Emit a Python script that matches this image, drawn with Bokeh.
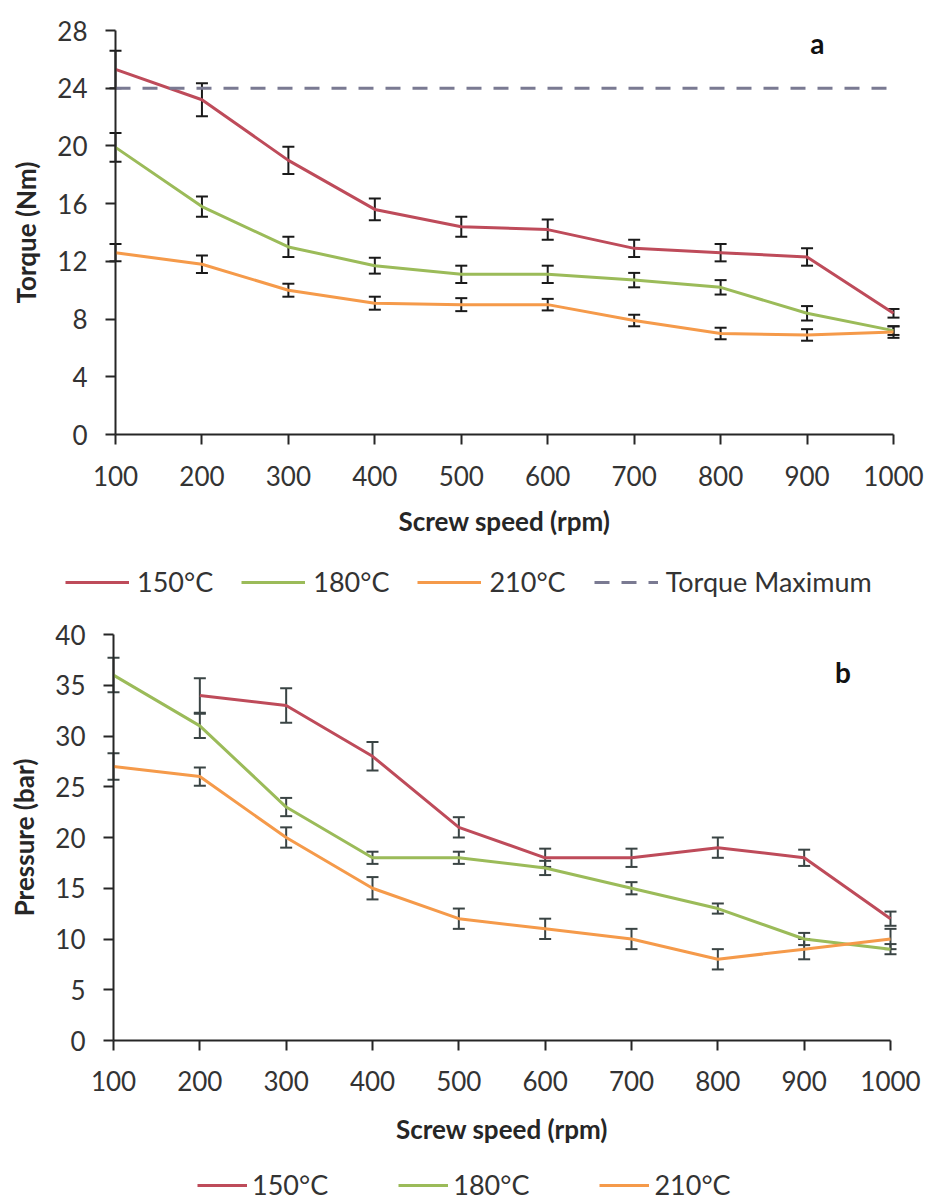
from bokeh.plotting import figure
from bokeh.models import (ColumnDataSource, Whisker, TeeHead, Legend, LegendItem,
                          FixedTicker, Range1d, Label)
from bokeh.layouts import column
from bokeh.embed import file_html
from bokeh.resources import INLINE

# ---------------- data ----------------
speed = [100, 200, 300, 400, 500, 600, 700, 800, 900, 1000]

torque_150 = [25.3, 23.2, 19.0, 15.6, 14.4, 14.2, 12.9, 12.6, 12.3, 8.4]
torque_150_err = [1.3, 1.15, 0.95, 0.75, 0.7, 0.7, 0.6, 0.6, 0.6, 0.3]
torque_180 = [19.9, 15.8, 13.0, 11.7, 11.1, 11.1, 10.7, 10.2, 8.4, 7.2]
torque_180_err = [1.0, 0.7, 0.7, 0.55, 0.6, 0.6, 0.5, 0.5, 0.5, 0.3]
torque_210 = [12.6, 11.8, 10.0, 9.1, 9.0, 9.0, 7.9, 7.0, 6.9, 7.1]
torque_210_err = [0.6, 0.6, 0.45, 0.45, 0.45, 0.4, 0.4, 0.4, 0.4, 0.4]
torque_max = 24
torque_ticks = [0, 4, 8, 12, 16, 20, 24, 28]

pressure_150_speed = [200, 300, 400, 500, 600, 700, 800, 900, 1000]
pressure_150 = [34, 33, 28, 21, 18, 18, 19, 18, 12]
pressure_150_err = [1.7, 1.7, 1.4, 1.0, 0.9, 0.9, 1.0, 0.8, 0.7]
pressure_180 = [36, 31, 23, 18, 18, 17, 15, 13, 10, 9]
pressure_180_err = [1.7, 1.2, 0.9, 0.6, 0.6, 0.7, 0.6, 0.5, 0.6, 0.5]
pressure_210 = [27, 26, 20, 15, 12, 11, 10, 8, 9, 10]
pressure_210_err = [1.3, 0.9, 1.0, 1.1, 1.0, 1.0, 1.0, 1.0, 1.0, 1.0]
pressure_ticks = [0, 5, 10, 15, 20, 25, 30, 35, 40]

labels = ["150°C", "180°C", "210°C"]
colors = ["#be4b5a", "#9bbb59", "#f59a4a"]
dash_color = "#7a7a92"
FONT = "Lato"
TXT = "#333333"
W = 932


def base_figure(height, box, yticks, ylabel, tick_standoff, title_standoff):
    """box = (left, right, top, bottom) pixel position of the plotting area
    (the axes) inside a figure whose drawing area covers the whole figure."""
    left, right, top, bottom = box
    x0, x1 = speed[0], speed[-1]
    y0, y1 = yticks[0], yticks[-1]
    kx = (x1 - x0) / (right - left)
    ky = (y1 - y0) / (bottom - top)
    p = figure(width=W, height=height, output_backend="svg", toolbar_location=None,
               x_range=Range1d(x0 - left * kx, x1 + (W - right) * kx),
               y_range=Range1d(y0 - (height - bottom) * ky, y1 + top * ky),
               min_border=0, background_fill_color="white", border_fill_color="white")
    p.outline_line_color = None
    p.xgrid.visible = False
    p.ygrid.visible = False
    p.xaxis.ticker = FixedTicker(ticks=speed)
    p.yaxis.ticker = FixedTicker(ticks=yticks)
    p.xaxis.fixed_location = y0
    p.yaxis.fixed_location = x0
    p.xaxis.bounds = (x0, x1)
    p.yaxis.bounds = (y0, y1)
    for ax in (p.xaxis[0], p.yaxis[0]):
        ax.axis_line_color = "#262626"
        ax.axis_line_width = 2
        ax.major_tick_line_color = "#262626"
        ax.major_tick_line_width = 2
        ax.major_tick_in = 0
        ax.major_tick_out = 10
        ax.minor_tick_out = 0
        ax.minor_tick_in = 0
        ax.major_label_text_font = FONT
        ax.major_label_text_font_size = "26px"
        ax.major_label_text_color = TXT
        ax.axis_label_text_font = FONT
        ax.axis_label_text_font_style = "bold"
        ax.axis_label_text_font_size = "26px"
        ax.axis_label_text_color = "#262626"
    p.xaxis.axis_label = "Screw speed (rpm)"
    p.yaxis.axis_label = ylabel
    p.xaxis.major_label_standoff = tick_standoff
    p.xaxis.axis_label_standoff = title_standoff
    p.yaxis.major_label_standoff = 18
    p.yaxis.axis_label_standoff = 12
    return p


def add_series(p, xs, ys, errs, color, err_color):
    r = p.line(xs, ys, line_color=color, line_width=3, line_join="round")
    src = ColumnDataSource(dict(x=xs,
                                upper=[y + e for y, e in zip(ys, errs)],
                                lower=[y - e for y, e in zip(ys, errs)]))
    w = Whisker(base="x", upper="upper", lower="lower", source=src,
                line_color=err_color, line_width=2,
                upper_head=TeeHead(size=12, line_color=err_color, line_width=2),
                lower_head=TeeHead(size=12, line_color=err_color, line_width=2))
    p.add_layout(w)
    return r


# ---------------- chart a ----------------
pa = base_figure(600, (115, 893, 30, 434), torque_ticks, "Torque (Nm)", 21, 16)
ra = [add_series(pa, speed, torque_150, torque_150_err, colors[0], "#1a1a1a"),
      add_series(pa, speed, torque_180, torque_180_err, colors[1], "#1a1a1a"),
      add_series(pa, speed, torque_210, torque_210_err, colors[2], "#1a1a1a")]
rmax = pa.line([speed[0], speed[-1]], [torque_max, torque_max], line_color=dash_color,
               line_width=3, line_dash="15 12")
pa.add_layout(Label(x=912, y=27.1, text="a", text_font=FONT, text_font_style="bold",
                    text_font_size="28px", text_align="center", text_baseline="middle",
                    text_color="#111111"))
leg_a = Legend(items=[LegendItem(label=labels[0], renderers=[ra[0]]),
                      LegendItem(label=labels[1], renderers=[ra[1]]),
                      LegendItem(label=labels[2], renderers=[ra[2]]),
                      LegendItem(label="Torque Maximum", renderers=[rmax])],
               orientation="horizontal", location=(65, 2),
               label_text_font=FONT, label_text_font_size="27px", label_text_color=TXT,
               glyph_width=64, glyph_height=20, spacing=28, label_standoff=8,
               border_line_color=None, background_fill_alpha=0, padding=0, margin=0)
pa.add_layout(leg_a)

# ---------------- chart b ----------------
pb = base_figure(601, (113, 890, 34, 440), pressure_ticks, "Pressure (bar)", 20, 19)
err_b = "#3a4444"
rb = [add_series(pb, pressure_150_speed, pressure_150, pressure_150_err, colors[0], err_b),
      add_series(pb, speed, pressure_180, pressure_180_err, colors[1], err_b),
      add_series(pb, speed, pressure_210, pressure_210_err, colors[2], err_b)]
pb.add_layout(Label(x=945, y=36.3, text="b", text_font=FONT, text_font_style="bold",
                    text_font_size="28px", text_align="center", text_baseline="middle",
                    text_color="#111111"))
leg_b = Legend(items=[LegendItem(label=labels[i], renderers=[rb[i]]) for i in range(3)],
               orientation="horizontal", location=(197, 0),
               label_text_font=FONT, label_text_font_size="27px", label_text_color=TXT,
               glyph_width=50, glyph_height=20, spacing=70, label_standoff=5,
               border_line_color=None, background_fill_alpha=0, padding=0, margin=0)
pb.add_layout(leg_b)

layout = column(pa, pb, spacing=0)
open("out.html", "w").write(file_html(layout, INLINE))
